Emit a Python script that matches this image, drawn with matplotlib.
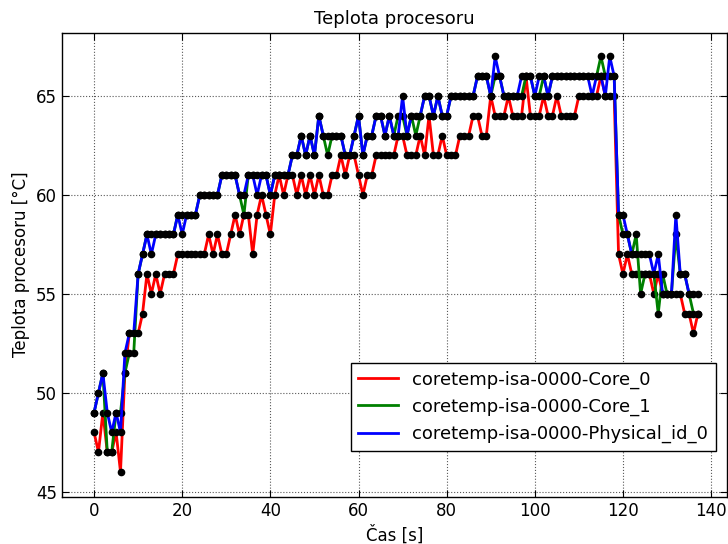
import matplotlib
matplotlib.use("Agg")
import matplotlib.pyplot as plt
import numpy as np

time_s = list(range(138))

core0 = [48,47,49,47,47,48,46,51,53,53,
         53,54,56,55,56,55,56,56,56,57,
         57,57,57,57,57,57,58,57,58,57,
         57,58,59,58,59,59,57,59,60,59,
         58,60,61,60,61,61,60,61,60,61,
         60,61,60,60,61,61,62,61,62,62,
         61,60,61,61,62,62,62,62,62,63,
         63,62,62,62,63,62,64,62,62,63,
         62,62,62,63,63,63,64,64,63,63,
         65,64,64,64,65,64,64,64,66,64,
         64,64,65,64,64,65,64,64,64,64,
         65,65,65,65,65,66,65,65,65,57,
         56,57,56,56,56,56,56,55,56,55,
         55,55,55,55,54,54,53,54]

core1 = [49,50,51,47,47,49,49,51,52,52,
         56,57,58,58,58,58,58,58,58,59,
         59,59,59,59,60,60,60,60,60,61,
         61,61,61,60,59,61,61,61,61,61,
         60,61,61,61,61,62,62,63,62,63,
         62,64,63,62,63,63,63,62,62,63,
         64,62,63,63,64,64,63,64,63,64,
         64,63,64,63,64,65,65,64,65,64,
         64,65,65,65,65,65,65,66,66,66,
         65,66,66,65,65,65,65,65,66,66,
         65,65,66,65,66,66,66,66,66,66,
         66,66,66,66,66,67,66,66,66,59,
         58,58,57,58,55,56,56,56,54,56,
         55,55,58,56,56,55,54,54]

physical0 = [49,50,51,49,48,49,48,52,53,53,
             56,57,58,57,58,58,58,58,58,59,
             58,59,59,59,60,60,60,60,60,61,
             61,61,61,60,60,61,61,60,61,61,
             60,61,61,61,61,62,62,63,62,63,
             62,64,63,63,63,63,63,62,62,63,
             64,62,63,63,64,64,63,64,63,63,
             65,63,64,64,64,65,65,64,65,64,
             64,65,65,65,65,65,65,66,66,66,
             65,67,66,65,65,65,65,66,66,66,
             65,66,66,65,66,66,66,66,66,66,
             66,66,66,65,66,66,65,67,66,59,
             59,58,57,57,57,57,57,56,57,55,
             55,55,59,56,56,55,55,55]

series_names = ["coretemp-isa-0000-Core_0",
                "coretemp-isa-0000-Core_1",
                "coretemp-isa-0000-Physical_id_0"]
series_colors = ["#ff0000", "#008000", "#0000ff"]

fig = plt.figure(figsize=(7.28, 5.44), dpi=100)
ax = fig.add_axes([0.085, 0.087, 0.913, 0.853])

for vals, name, col in zip([core0, core1, physical0], series_names, series_colors):
    ax.plot(time_s, vals, color=col, linewidth=2, marker='o', markersize=4.5,
            markerfacecolor='black', markeredgecolor='black', label=name, zorder=3)

ax.set_xlim(-7.3, 143.5)
ax.set_ylim(44.75, 68.2)
ax.set_xticks([0, 20, 40, 60, 80, 100, 120, 140])
ax.set_yticks([45, 50, 55, 60, 65])
ax.grid(True, linestyle=':', color='0.35', linewidth=0.8)
ax.tick_params(labelsize=12, direction='in', length=5, top=True, right=True)
ax.set_title("Teplota procesoru", fontsize=13)
ax.set_xlabel("Čas [s]", fontsize=12)
ax.set_ylabel("Teplota procesoru [°C]", fontsize=12)
for s in ax.spines.values():
    s.set_linewidth(1.0)

leg = ax.legend(loc='lower right', fontsize=13, fancybox=False, framealpha=1,
                edgecolor='black', bbox_to_anchor=(0.997, 0.08), handlelength=2.2)
leg.get_frame().set_linewidth(1.0)
for h in leg.legend_handles:
    h.set_marker('')

fig.savefig("out.png", dpi=100)
